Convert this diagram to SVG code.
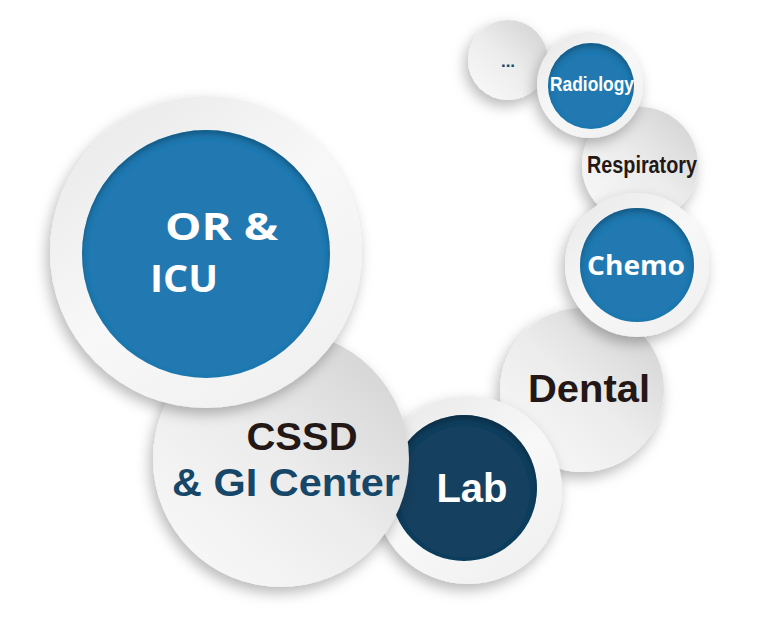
<svg xmlns="http://www.w3.org/2000/svg" width="772" height="624" viewBox="0 0 772 624">
<defs>
<style>
.sans{font-family:"Liberation Sans",Arial,sans-serif;font-weight:bold}
.open{font-family:"Open Sans","Liberation Sans",sans-serif;font-weight:bold}
.white{fill:#ffffff}
.dark{fill:#231815}
.navy{fill:#174768}
.blue{fill:#2279b1}
.deep{fill:#13405f}
</style>
<linearGradient id="gPlain" x1="0.85" y1="0.1" x2="0.15" y2="0.9">
<stop offset="0" stop-color="#d6d6d6"/>
<stop offset="0.5" stop-color="#ececec"/>
<stop offset="1" stop-color="#f7f7f7"/>
</linearGradient>
<linearGradient id="gRing" x1="0.2" y1="0.1" x2="0.8" y2="0.9">
<stop offset="0" stop-color="#ececec"/>
<stop offset="0.5" stop-color="#f8f8f8"/>
<stop offset="1" stop-color="#f1f1f1"/>
</linearGradient>
<filter id="drop" x="-30%" y="-30%" width="160%" height="160%">
<feDropShadow dx="-3" dy="6" stdDeviation="7" flood-color="#000" flood-opacity="0.28"/>
</filter>
<filter id="inset" x="-10%" y="-10%" width="120%" height="120%">
<feComponentTransfer in="SourceAlpha"><feFuncA type="table" tableValues="1 0"/></feComponentTransfer>
<feGaussianBlur stdDeviation="3"/>
<feOffset dx="0" dy="4" result="ob"/>
<feFlood flood-color="#000" flood-opacity="0.5"/>
<feComposite in2="ob" operator="in"/>
<feComposite in2="SourceAlpha" operator="in" result="sh"/>
<feMerge><feMergeNode in="SourceGraphic"/><feMergeNode in="sh"/></feMerge>
</filter>
</defs>
<rect width="772" height="624" fill="#ffffff"/>
<g id="connectors"/>
<g id="node-dental">
<circle cx="582" cy="390" r="82" fill="url(#gPlain)" filter="url(#drop)"/>
<text x="589" y="402" class="sans dark" font-size="38" text-anchor="middle" textLength="122" lengthAdjust="spacingAndGlyphs">Dental</text>
</g>
<g id="node-respiratory">
<circle cx="640" cy="165" r="58" fill="url(#gPlain)" filter="url(#drop)"/>
<text x="642" y="173" class="sans dark" font-size="23" text-anchor="middle" textLength="110" lengthAdjust="spacingAndGlyphs">Respiratory</text>
</g>
<g id="node-more">
<circle cx="508" cy="60" r="40" fill="url(#gPlain)" filter="url(#drop)"/>
<text x="508" y="67" class="sans navy" font-size="17" text-anchor="middle">...</text>
</g>
<g id="node-radiology">
<circle cx="590" cy="85" r="53" fill="url(#gRing)" filter="url(#drop)"/>
<circle cx="591" cy="86" r="43" class="blue" filter="url(#inset)"/>
<text x="592" y="91" class="sans white" font-size="20" text-anchor="middle" textLength="84" lengthAdjust="spacingAndGlyphs">Radiology</text>
</g>
<g id="node-chemo">
<circle cx="637" cy="265" r="72" fill="url(#gRing)" filter="url(#drop)"/>
<circle cx="637" cy="265" r="57" class="blue" filter="url(#inset)"/>
<text x="636" y="275" class="open white" font-size="26" text-anchor="middle" textLength="98" lengthAdjust="spacingAndGlyphs">Chemo</text>
</g>
<g id="node-lab">
<circle cx="468" cy="490" r="94" fill="url(#gRing)" filter="url(#drop)"/>
<circle cx="464" cy="488" r="73" class="deep" filter="url(#inset)"/>
<text x="472" y="502" class="sans white" font-size="40" text-anchor="middle">Lab</text>
</g>
<g id="node-cssd">
<circle cx="281" cy="459" r="128" fill="url(#gPlain)" filter="url(#drop)"/>
<text x="302" y="450" class="sans dark" font-size="38" text-anchor="middle" textLength="111" lengthAdjust="spacingAndGlyphs">CSSD</text>
<text x="286" y="496" class="sans navy" font-size="38" text-anchor="middle" textLength="228" lengthAdjust="spacingAndGlyphs">&amp; GI Center</text>
</g>
<g id="node-or-icu">
<circle cx="206" cy="252" r="156" fill="url(#gRing)" filter="url(#drop)"/>
<circle cx="206" cy="254" r="124" class="blue" filter="url(#inset)"/>
<text x="165" y="240" class="open white" font-size="38" textLength="113" lengthAdjust="spacingAndGlyphs">OR &amp;</text>
<text x="150" y="292" class="open white" font-size="38" textLength="68" lengthAdjust="spacingAndGlyphs">ICU</text>
</g>
</svg>
